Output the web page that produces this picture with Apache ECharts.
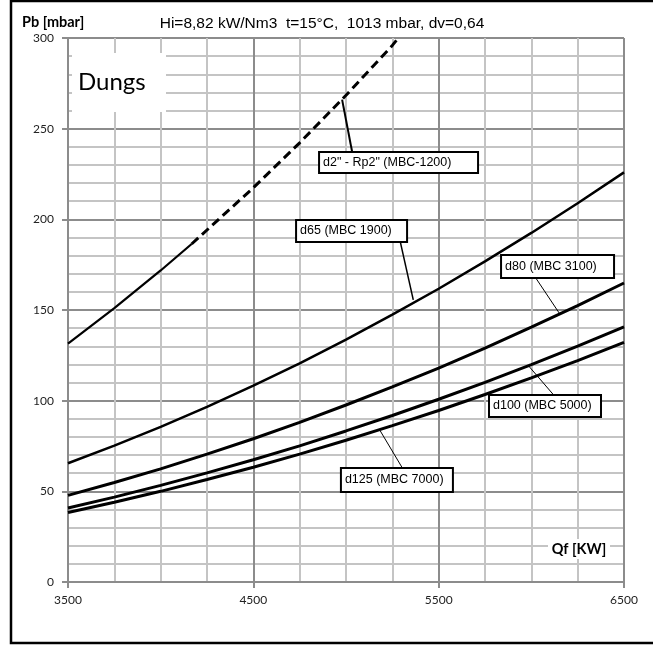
<!DOCTYPE html>
<html><head><meta charset="utf-8">
<script src="https://cdn.jsdelivr.net/npm/echarts@6/dist/echarts.min.js"></script>
<style>html,body{margin:0;padding:0;background:#fff}#c{width:653px;height:651px}</style>
</head><body><div id="c"></div>
<script>
// ---- data ----
const qf   = [3500, 3750, 4000, 4250, 4500, 4750, 5000, 5250, 5500, 5750, 6000, 6250, 6500];
const d65  = [65.5, 75.2, 85.5, 96.6, 108.3, 120.6, 133.7, 147.4, 161.7, 176.8, 192.5, 208.9, 225.9];
const d80  = [47.8, 54.9, 62.4, 70.5, 79.0, 88.0, 97.6, 107.6, 118.0, 129.0, 140.5, 152.4, 164.9];
const d100 = [40.8, 46.8, 53.3, 60.2, 67.4, 75.1, 83.3, 91.8, 100.8, 110.1, 119.9, 130.1, 140.7];
const d125 = [38.3, 44.0, 50.0, 56.5, 63.3, 70.5, 78.2, 86.2, 94.6, 103.4, 112.6, 122.1, 132.1];
const d2SolidQ  = [3500, 3750, 4000, 4167];
const d2SolidPb = [131.5, 151.0, 171.8, 186.4];
const d2DashQ   = [4167, 4500, 4750, 5000, 5250, 5282];
const d2DashPb  = [186.4, 217.4, 242.2, 268.4, 295.9, 300];
const xTickLabels = [3500, 4500, 5500, 6500];
const yTickLabels = [0, 50, 100, 150, 200, 250, 300];
const seriesNames = ['d2" - Rp2" (MBC-1200)', 'd65 (MBC 1900)', 'd80 (MBC 3100)', 'd100 (MBC 5000)', 'd125 (MBC 7000)'];
const titleText = 'Hi=8,82 kW/Nm3  t=15°C,  1013 mbar, dv=0,64';
const yName = 'Pb [mbar]';
const xName = 'Qf [KW]';
const brand = 'Dungs';

// ---- annotation placement (data coordinates: box left-middle, pointer ends) ----
const notes = {
  d2:   {box: [4860, 231.3], size: [157, 21], from: [5033, 237.3], to: [4979, 266.0], lw: 2},
  d65:  {box: [4736, 193.6], size: [109, 22], from: [5293, 187.6], to: [5363, 155.6], lw: 1.5},
  d80:  {box: [5842, 174.0], size: [111, 23], from: [6023, 167.8], to: [6153, 147.9], lw: 1},
  d100: {box: [5777, 97.1],  size: [110, 22], from: [6120, 103.2], to: [5985, 119.2], lw: 1},
  d125: {box: [4978, 56.3],  size: [110, 24], from: [5304, 62.9],  to: [5185, 83.3],  lw: 1}
};

function pairs(q, p) { return q.map((x, i) => [x, p[i]]); }

function lineSeries(name, data, width, type, note, text) {
  const s = {
    type: 'line', name: name, data: data, showSymbol: false, symbol: 'none',
    lineStyle: {color: '#000', width: width, type: type},
    clip: true, silent: true, z: 3, animation: false
  };
  if (note) {
    s.markLine = {
      silent: true, animation: false, symbol: ['none', 'none'],
      lineStyle: {color: '#000', width: note.lw, type: 'solid'},
      label: {show: false},
      data: [[{coord: note.from}, {coord: note.to}]]
    };
    s.markPoint = {
      silent: true, animation: false,
      data: [{
        coord: note.box, symbol: 'circle', symbolSize: 1,
        itemStyle: {color: 'rgba(0,0,0,0)'},
        label: {show: true, position: 'inside', align: 'left', verticalAlign: 'middle',
                formatter: text, color: '#000', fontSize: 12.5, fontFamily: 'Liberation Sans',
                backgroundColor: '#fff', borderColor: '#000', borderWidth: 2,
                padding: [0, 3], width: note.size[0] - 6, height: note.size[1] - 2,
                lineHeight: note.size[1] - 2}
      }]
    };
  }
  return s;
}

const chart = echarts.init(document.getElementById('c'), null, {renderer: 'canvas'});
const gridColMajor = '#8c8c8c', gridColMinor = '#c4c4c4';

chart.setOption({
  animation: false,
  backgroundColor: '#fff',
  grid: {left: 68, right: 29, top: 38, bottom: 69},
  xAxis: {
    type: 'value', min: 3500, max: 6500, interval: 1000,
    axisLine: {show: true, lineStyle: {color: gridColMajor, width: 2}},
    axisTick: {show: true, length: 6, lineStyle: {color: gridColMajor, width: 2}},
    axisLabel: {margin: 12, fontFamily: 'Lato', fontSize: 12, color: '#222',
      formatter: v => xTickLabels.includes(v) ? String(v) : ''},
    splitLine: {show: true, lineStyle: {color: gridColMajor, width: 2}},
    minorTick: {show: false, splitNumber: 4},
    minorSplitLine: {show: true, lineStyle: {color: gridColMinor, width: 2}}
  },
  yAxis: {
    type: 'value', min: 0, max: 300, interval: 50,
    axisLine: {show: true, lineStyle: {color: gridColMajor, width: 2}},
    axisTick: {show: true, length: 6, lineStyle: {color: gridColMajor, width: 2}},
    axisLabel: {margin: 14, fontFamily: 'Lato', fontSize: 12, color: '#222',
      formatter: v => yTickLabels.includes(v) ? String(v) : ''},
    splitLine: {show: true, lineStyle: {color: gridColMajor, width: 2}},
    minorTick: {show: false, splitNumber: 5},
    minorSplitLine: {show: true, lineStyle: {color: gridColMinor, width: 2}}
  },
  series: [
    lineSeries(seriesNames[0] + ' solid', pairs(d2SolidQ, d2SolidPb), 2.2, 'solid'),
    lineSeries(seriesNames[0], pairs(d2DashQ, d2DashPb), 3, [9, 5], notes.d2, seriesNames[0]),
    lineSeries(seriesNames[1], pairs(qf, d65), 2.5, 'solid', notes.d65, seriesNames[1]),
    lineSeries(seriesNames[2], pairs(qf, d80), 3, 'solid', notes.d80, seriesNames[2]),
    lineSeries(seriesNames[3], pairs(qf, d100), 3, 'solid', notes.d100, seriesNames[3]),
    lineSeries(seriesNames[4], pairs(qf, d125), 3, 'solid', notes.d125, seriesNames[4])
  ],
  graphic: [
    {type: 'rect', z: 100, silent: true, shape: {x: 11, y: 1, width: 700, height: 642},
     style: {fill: 'none', stroke: '#000', lineWidth: 2.5}},
    {type: 'rect', z: 10, silent: true, shape: {x: 72, y: 53, width: 94, height: 59},
     style: {fill: '#fff'}},
    {type: 'text', z: 11, silent: true, x: 78, y: 82,
     style: {text: brand, font: '24px Lato', fill: '#000', align: 'left', verticalAlign: 'middle'}},
    {type: 'text', z: 11, silent: true, x: 22, y: 22,
     style: {text: yName, font: 'bold 14.5px Lato', fill: '#000', align: 'left', verticalAlign: 'middle'}},
    {type: 'text', z: 11, silent: true, x: 322, y: 24,
     style: {text: titleText, font: '15.5px "Liberation Sans"', fill: '#000', align: 'center', verticalAlign: 'middle'}},
    {type: 'rect', z: 10, silent: true, shape: {x: 548, y: 539, width: 62, height: 20},
     style: {fill: '#fff'}},
    {type: 'text', z: 11, silent: true, x: 579, y: 549,
     style: {text: xName, font: 'bold 14.5px Lato', fill: '#000', align: 'center', verticalAlign: 'middle'}}
  ]
});
</script>
</body></html>
